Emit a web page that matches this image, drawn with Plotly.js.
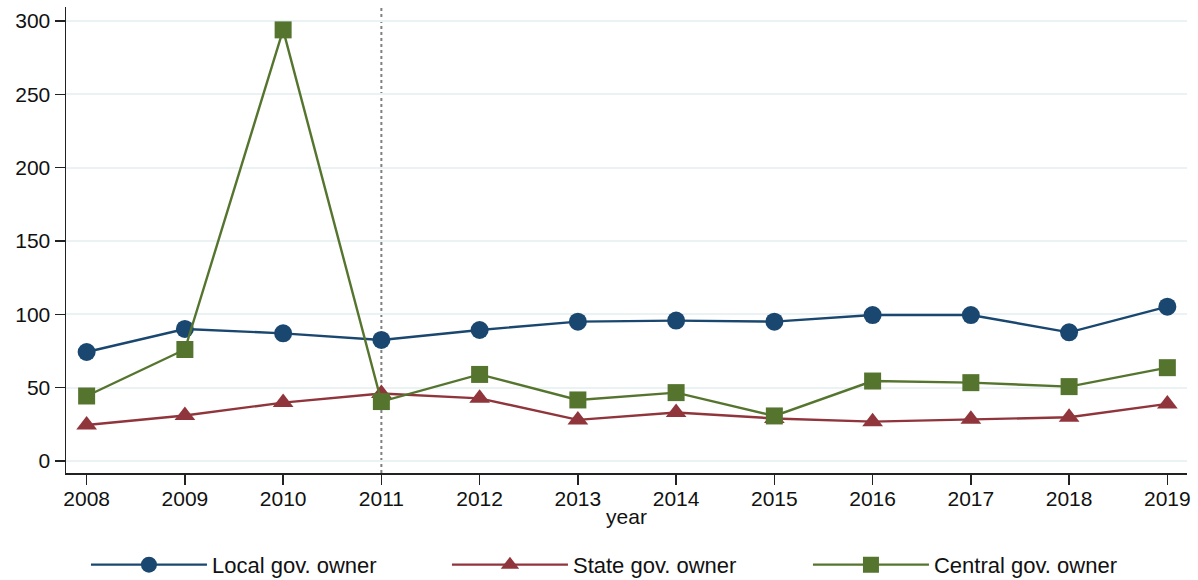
<!DOCTYPE html>
<html>
<head>
<meta charset="utf-8">
<script src="https://cdn.plot.ly/plotly-3.0.1.min.js"></script>
<style>html,body{margin:0;padding:0;background:#fff;}#chart{width:1198px;height:580px;}</style>
</head>
<body>
<div id="chart"></div>
<script>
const years = [2008, 2009, 2010, 2011, 2012, 2013, 2014, 2015, 2016, 2017, 2018, 2019];
const localGov = [74.3, 90, 87, 82.5, 89.3, 95, 95.7, 95, 99.5, 99.5, 87.7, 105.2];
const stateGov = [24.5, 31, 39.8, 46, 42.7, 28, 33, 29, 26.8, 28.4, 29.8, 38.9];
const centralGov = [44.3, 76, 293.9, 40.5, 59, 41.6, 46.6, 30.7, 54.5, 53.4, 50.7, 63.6];
const seriesNames = ["Local gov. owner", "State gov. owner", "Central gov. owner"];
const yTicks = [0, 50, 100, 150, 200, 250, 300];
const refYear = 2011;

const colors = ["#1a476f", "#90353b", "#55752f"];
const symbols = ["circle", "triangle-up", "square"];
const sizes = [18, 18, 17];
const data = [localGov, stateGov, centralGov].map((vals, i) => ({
  x: years, y: vals, name: seriesNames[i], type: "scatter", mode: "lines+markers",
  line: {color: colors[i], width: 2.4},
  marker: {symbol: symbols[i], size: sizes[i], color: colors[i]}
}));

const font = {family: "Liberation Sans, Arial, sans-serif", size: 21, color: "#111"};
const legFont = {family: "Liberation Sans, Arial, sans-serif", size: 22, color: "#111"};
const layout = {
  width: 1198, height: 580,
  margin: {l: 66, r: 11, t: 7, b: 107, autoexpand: false},
  paper_bgcolor: "#fff", plot_bgcolor: "#fff",
  font: font,
  showlegend: true,
  legend: {orientation: "h", x: 0.0178, xanchor: "left", y: -0.152, yanchor: "top",
           entrywidth: 230, font: legFont, itemwidth: 116},
  xaxis: {
    range: [2007.79, 2019.2], tickvals: years, ticktext: years.map(String),
    showgrid: false, zeroline: false, showline: true, linecolor: "#222", linewidth: 1.5,
    ticks: "outside", ticklen: 10, tickcolor: "#222", tickwidth: 1.5,
    tickfont: font, ticklabelstandoff: -4,
    title: {text: "year", font: font, standoff: 0}
  },
  yaxis: {
    range: [-8.2, 309.5], tickvals: yTicks, ticktext: yTicks.map(String),
    showgrid: true, gridcolor: "#eaf2f3", gridwidth: 2, zeroline: false,
    showline: true, linecolor: "#222", linewidth: 1.5,
    ticks: "outside", ticklen: 10, tickcolor: "#222", tickwidth: 1.5,
    tickfont: font
  },
  shapes: [{type: "line", xref: "x", yref: "paper", x0: refYear, x1: refYear, y0: 0, y1: 1,
            line: {color: "#808080", width: 2, dash: "dot"}, layer: "below"}]
};
Plotly.newPlot("chart", data, layout, {displayModeBar: false, staticPlot: true});
</script>
</body>
</html>
